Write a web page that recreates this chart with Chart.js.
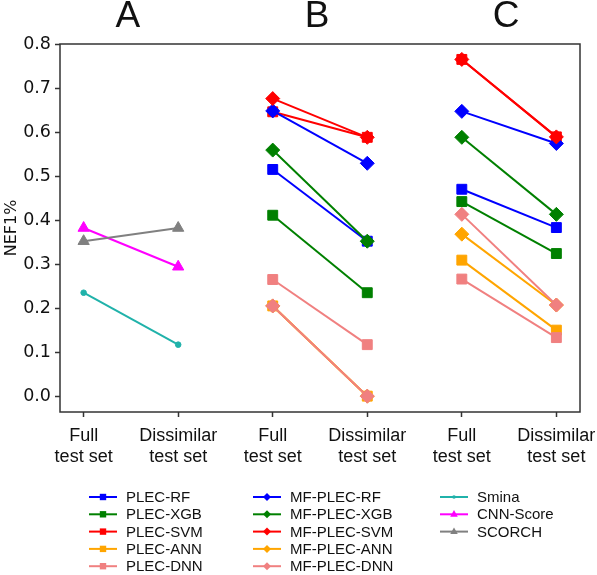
<!DOCTYPE html>
<html>
<head>
<meta charset="utf-8">
<script src="https://cdn.jsdelivr.net/npm/chart.js@4.4.1/dist/chart.umd.min.js"></script>
<style>
  body { margin: 0; background: #fff; }
  #wrap { width: 597px; height: 575px; }
</style>
</head>
<body>
<div id="wrap"><canvas id="nefChart" width="597" height="575"></canvas></div>
<script>
// tick labels / panel titles
const xTickLabels = [
  ["Full", "test set"], ["Dissimilar", "test set"],
  ["Full", "test set"], ["Dissimilar", "test set"],
  ["Full", "test set"], ["Dissimilar", "test set"]
];
const yTickValues = [0.0, 0.1, 0.2, 0.3, 0.4, 0.5, 0.6, 0.7, 0.8];
const groupTitles = ["A", "B", "C"];

// panels B and C: [B full, B dissimilar, C full, C dissimilar]
const plecRF = [0.515, 0.352, 0.470, 0.383];
const plecXGB = [0.411, 0.235, 0.442, 0.324];
const plecSVM = [0.646, 0.588, 0.765, 0.589];
const plecANN = [0.205, 0.000, 0.309, 0.150];
const plecDNN = [0.265, 0.117, 0.266, 0.133];
const mfPlecRF = [0.648, 0.529, 0.647, 0.574];
const mfPlecXGB = [0.559, 0.352, 0.588, 0.413];
const mfPlecSVM = [0.676, 0.588, 0.765, 0.589];
const mfPlecANN = [0.205, 0.000, 0.368, 0.207];
const mfPlecDNN = [0.205, 0.000, 0.413, 0.207];

// panel A: [full, dissimilar]
const smina = [0.235, 0.117];
const cnnScore = [0.382, 0.294];
const scorch = [0.352, 0.382];

const series = [
  { label: "PLEC-RF", values: plecRF, panel: "BC", color: "#0000ff", marker: "rect" },
  { label: "PLEC-XGB", values: plecXGB, panel: "BC", color: "#008000", marker: "rect" },
  { label: "PLEC-SVM", values: plecSVM, panel: "BC", color: "#ff0000", marker: "rect" },
  { label: "PLEC-ANN", values: plecANN, panel: "BC", color: "#ffa500", marker: "rect" },
  { label: "PLEC-DNN", values: plecDNN, panel: "BC", color: "#f08080", marker: "rect" },
  { label: "MF-PLEC-RF", values: mfPlecRF, panel: "BC", color: "#0000ff", marker: "rectRot" },
  { label: "MF-PLEC-XGB", values: mfPlecXGB, panel: "BC", color: "#008000", marker: "rectRot" },
  { label: "MF-PLEC-SVM", values: mfPlecSVM, panel: "BC", color: "#ff0000", marker: "rectRot" },
  { label: "MF-PLEC-ANN", values: mfPlecANN, panel: "BC", color: "#ffa500", marker: "rectRot" },
  { label: "MF-PLEC-DNN", values: mfPlecDNN, panel: "BC", color: "#f08080", marker: "rectRot" },
  { label: "Smina", values: smina, panel: "A", color: "#20b2aa", marker: "circle" },
  { label: "CNN-Score", values: cnnScore, panel: "A", color: "#ff00ff", marker: "triangle" },
  { label: "SCORCH", values: scorch, panel: "A", color: "#808080", marker: "triangle" }
];

const markerRadius = { rect: 7, rectRot: 7, triangle: 6.5, circle: 2.8 };

const datasets = series.map((s, idx) => {
  const startX = s.panel === "A" ? 0 : 2;
  return {
    label: s.label,
    data: s.values.map((v, i) => ({ x: startX + i, y: v })),
    borderColor: s.color,
    backgroundColor: s.color,
    borderWidth: 2,
    pointStyle: s.marker,
    pointRadius: markerRadius[s.marker],
    pointBorderWidth: 1,
    pointBorderColor: s.color,
    pointBackgroundColor: s.color,
    order: series.length - idx,
    segment: {
      // no line between panel B and panel C
      borderColor: c => (s.panel === "BC" && c.p0DataIndex === 1) ? "rgba(0,0,0,0)" : undefined
    }
  };
});

function drawMarker(ctx, shape, x, y, r) {
  ctx.beginPath();
  if (shape === "rect") {
    ctx.rect(x - r, y - r, 2 * r, 2 * r);
  } else if (shape === "rectRot") {
    ctx.moveTo(x, y - r);
    ctx.lineTo(x + r, y);
    ctx.lineTo(x, y + r);
    ctx.lineTo(x - r, y);
  } else if (shape === "triangle") {
    ctx.moveTo(x, y - r);
    ctx.lineTo(x + r * 0.9, y + r * 0.6);
    ctx.lineTo(x - r * 0.9, y + r * 0.6);
  } else {
    ctx.arc(x, y, r, 0, Math.PI * 2);
  }
  ctx.closePath();
  ctx.fill();
}

const extrasPlugin = {
  id: "extras",
  afterDraw(chart) {
    const ctx = chart.ctx;
    const area = chart.chartArea;
    const xScale = chart.scales.x;
    ctx.save();

    // axes frame
    ctx.strokeStyle = "#333";
    ctx.lineWidth = 1.5;
    ctx.strokeRect(area.left, area.top, area.right - area.left, area.bottom - area.top);

    // panel letters
    ctx.fillStyle = "#111";
    ctx.font = '37px "Liberation Sans", Arial, sans-serif';
    ctx.textAlign = "center";
    ctx.textBaseline = "middle";
    groupTitles.forEach((t, i) => {
      ctx.fillText(t, xScale.getPixelForValue(2 * i + 0.5) - 3, 17);
    });

    // legend, 3 columns
    const columns = [[0, 1, 2, 3, 4], [5, 6, 7, 8, 9], [10, 11, 12]];
    const colX = [89, 253, 440];
    const rowY0 = 497;
    const rowGap = 17.3;
    const legendMarker = { rect: 3.2, rectRot: 4, triangle: 4.2, circle: 1.8 };
    ctx.font = '15px "Liberation Sans", Arial, sans-serif';
    ctx.textAlign = "left";
    columns.forEach((col, c) => {
      col.forEach((si, r) => {
        const s = series[si];
        const x0 = colX[c];
        const y = rowY0 + r * rowGap;
        ctx.strokeStyle = s.color;
        ctx.lineWidth = 2;
        ctx.beginPath();
        ctx.moveTo(x0, y);
        ctx.lineTo(x0 + 28, y);
        ctx.stroke();
        ctx.fillStyle = s.color;
        drawMarker(ctx, s.marker, x0 + 14, y, legendMarker[s.marker]);
        ctx.fillStyle = "#111";
        ctx.fillText(s.label, x0 + 37, y + 1);
      });
    });
    ctx.restore();
  }
};

new Chart(document.getElementById("nefChart"), {
  type: "line",
  data: { datasets: datasets },
  options: {
    responsive: false,
    animation: false,
    spanGaps: false,
    layout: { padding: { top: 44, right: 17, bottom: 105, left: 0 } },
    plugins: {
      legend: { display: false },
      tooltip: { enabled: false }
    },
    scales: {
      x: {
        type: "linear",
        min: -0.25,
        max: 5.25,
        afterBuildTicks: axis => { axis.ticks = xTickLabels.map((_, i) => ({ value: i })); },
        afterFit: axis => {
          axis.height = 58;
          // let the last label run past the frame, like the original
          axis.paddingLeft = 0;
          axis.paddingRight = 0;
        },
        border: { display: false },
        grid: { display: true, drawOnChartArea: false, drawTicks: true, tickLength: 5, tickColor: "#333", tickWidth: 1.5 },
        ticks: {
          autoSkip: false,
          maxRotation: 0,
          padding: 8,
          color: "#111",
          font: { family: '"Liberation Sans", Arial, sans-serif', size: 18, lineHeight: 1.2 },
          callback: v => xTickLabels[v]
        }
      },
      y: {
        min: -0.036,
        max: 0.8,
        afterBuildTicks: axis => { axis.ticks = yTickValues.map(v => ({ value: v })); },
        afterFit: axis => { axis.width = 60; },
        border: { display: false },
        grid: { display: true, drawOnChartArea: false, drawTicks: true, tickLength: 5, tickColor: "#333", tickWidth: 1.5 },
        title: {
          display: true,
          text: "NEF1%",
          color: "#111",
          padding: 2,
          font: { family: '"DejaVu Sans", sans-serif', size: 16 }
        },
        ticks: {
          padding: 4,
          color: "#111",
          font: { family: '"DejaVu Sans", sans-serif', size: 17.5 },
          callback: v => v.toFixed(1)
        }
      }
    }
  },
  plugins: [extrasPlugin]
});
</script>
</body>
</html>
